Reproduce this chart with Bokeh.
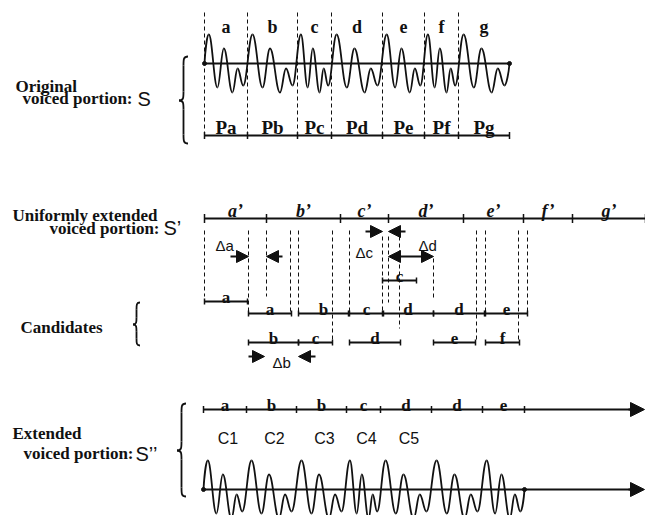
import numpy as np
from bokeh.plotting import figure
from bokeh.models import Range1d, Arrow, NormalHead
from bokeh.core.properties import value
from bokeh.embed import file_html
from bokeh.resources import INLINE

# ------------------------------------------------------------------ data
t0 = 204                                   # time origin of every track
period_labels = ["a", "b", "c", "d", "e", "f", "g"]
p_labels = ["Pa", "Pb", "Pc", "Pd", "Pe", "Pf", "Pg"]
orig_period_len = [43, 50, 34, 51, 42, 34, 51]      # original pitch periods
ext_labels = ["a\u2019", "b\u2019", "c\u2019", "d\u2019", "e\u2019", "f\u2019", "g\u2019"]
ext_period_len = [62, 74, 48, 75, 60, 49, 73]       # uniformly extended periods

# one pitch-period waveform template: position (fraction of period), amplitude
wave_frac = [0.10, 0.30, 0.45, 0.65, 0.77, 0.90]
wave_amp = [29, -24, 15, -29, -5, -22]

# candidate pitch waveforms: (label, start time)
cand_row1 = [("a", 204)]
cand_row2 = [("a", 248), ("b", 298), ("c", 349), ("d", 382), ("d", 433), ("e", 485)]
cand_row3 = [("b", 248), ("c", 298), ("d", 349), ("e", 433), ("f", 485)]
cand_extra = [("c", 382)]

# guide times (dashed lines) in the candidate section
guide_x = [204, 248, 266, 290, 298, 332, 349, 382, 388, 399, 433, 476, 485, 518, 527]

# deltas: (name, from, to)
deltas = [("\u0394a", 248, 266), ("\u0394b", 264, 298), ("\u0394c", 382, 388), ("\u0394d", 388, 433)]

selected = ["a", "b", "b", "c", "d", "d", "e"]
c_labels = ["C1", "C2", "C3", "C4", "C5"]

# ------------------------------------------------------------------ layout
Y_TOPLAB, Y_WAVE1, Y_PBAR = 26, 63, 135
Y_SPRIME = 218
Y_ROW1, Y_ROW2, Y_ROW3, Y_EXTRA = 301, 313, 342, 280
Y_S2LINE, Y_CLAB, Y_WAVE2 = 409, 438, 489
X_END = 644
W, H = 645, 515
guide_top = [230, 230, 230, 230, 230, 230, 230, 236, 236, 236, 258, 230, 230, 230, 230]
guide_bot = [296, 313, 296, 313, 313, 342, 313, 313, 302, 328, 297, 342, 313, 342, 313]

SERIF = value("Liberation Serif")
SANS = value("Liberation Sans")
BLACK = "#111111"

p = figure(width=W, height=H, x_range=Range1d(0, W), y_range=Range1d(H, 0),
           output_backend="svg", toolbar_location=None, min_border=0,
           x_axis_location=None, y_axis_location=None)
p.grid.visible = False
p.outline_line_color = None
p.background_fill_color = "white"

len_of = dict(zip(period_labels, orig_period_len))


def bounds(start, lengths):
    return list(start + np.concatenate([[0], np.cumsum(lengths)]))


def draw_wave(start, lengths, base):
    xs, ys = [start], [base]
    x = start
    for L in lengths:
        for f, a in zip(wave_frac, wave_amp):
            xs.append(x + f * L)
            ys.append(base - a)
        x += L
    xs.append(x)
    ys.append(base)
    xs, ys = np.array(xs, float), np.array(ys, float)
    xa, ya, xb, yb = xs[:-1], ys[:-1], xs[1:], ys[1:]
    dx = xb - xa
    cx0, cy0 = xa + 0.4 * dx, ya.copy()
    cx1, cy1 = xb - 0.4 * dx, yb.copy()
    cx0[0], cy0[0] = xa[0] + 0.15 * dx[0], ya[0] + 0.4 * (yb[0] - ya[0])
    cx1[-1], cy1[-1] = xb[-1] - 0.15 * dx[-1], yb[-1] - 0.4 * (yb[-1] - ya[-1])
    p.bezier(x0=xa, y0=ya, x1=xb, y1=yb, cx0=cx0, cy0=cy0, cx1=cx1, cy1=cy1,
             line_color=BLACK, line_width=1.8)


def draw_bar(edges, y, tick=3.5, lw=2):
    p.segment(x0=[edges[0]], y0=[y], x1=[edges[-1]], y1=[y], line_color=BLACK, line_width=lw)
    p.segment(x0=edges, y0=[y - tick] * len(edges), x1=edges, y1=[y + tick] * len(edges),
              line_color=BLACK, line_width=1.5)


def labels(xs, y, texts, size="17px", font=SERIF, style="bold", align="center"):
    p.text(x=xs, y=[y] * len(xs), text=texts, text_font=font, text_font_style=style,
           text_font_size=size, text_align=align, text_baseline="alphabetic", text_color=BLACK)


def brace(xc, y0, y1, ym, w):
    h = min(9, (ym - y0) / 3)
    x0 = [xc + w, xc, xc, xc + w]
    ys0 = [y0, ym - h, ym + h, y1]
    x1 = [xc, xc - w, xc - w, xc]
    ys1 = [y0 + h, ym, ym, y1 - h]
    cx0 = [xc, xc, xc, xc]
    cy0 = [y0, ym - 0.3 * h, ym + 0.3 * h, y1]
    cx1 = [xc, xc, xc, xc]
    cy1 = [y0 + 0.3 * h, ym, ym, y1 - 0.3 * h]
    p.bezier(x0=x0, y0=ys0, x1=x1, y1=ys1, cx0=cx0, cy0=cy0, cx1=cx1, cy1=cy1,
             line_color=BLACK, line_width=1.8)
    p.segment(x0=[xc, xc], y0=[y0 + h, ym + h], x1=[xc, xc], y1=[ym - h, y1 - h],
              line_color=BLACK, line_width=1.8)


def arrow(xs, xe, y, both=False, size=12):
    p.add_layout(Arrow(end=NormalHead(size=size, fill_color=BLACK, line_color=BLACK),
                       start=NormalHead(size=size, fill_color=BLACK, line_color=BLACK) if both else None,
                       x_start=xs, y_start=y, x_end=xe, y_end=y,
                       line_color=BLACK, line_width=2))


# ------------------------------------------------------------------ original S
ob = bounds(t0, orig_period_len)
centers = [(a + b) / 2 for a, b in zip(ob[:-1], ob[1:])]
p.segment(x0=ob[:-1], y0=[12] * 7, x1=ob[:-1], y1=[Y_PBAR] * 7,
          line_color=BLACK, line_width=1, line_dash="4 3")
labels(centers, Y_TOPLAB, period_labels, size="18px")
p.segment(x0=[ob[0]], y0=[Y_WAVE1], x1=[ob[-1]], y1=[Y_WAVE1], line_color=BLACK, line_width=2)
p.scatter(x=[ob[0], ob[-1]], y=[Y_WAVE1] * 2, size=4, color=BLACK)
draw_wave(t0, orig_period_len, Y_WAVE1)
labels(centers, 127, p_labels, size="19px")
draw_bar(ob, Y_PBAR)

labels([15], 86, ["Original"], align="left")
labels([22], 98, ["voiced portion:"], align="left")
labels([137], 98, ["S"], size="20px", font=SANS, style="normal", align="left")
brace(183, 56, 143, 100, 4.5)

# ------------------------------------------------------------------ extended S'
eb = bounds(t0, ext_period_len)
ecent = [(a + b) / 2 for a, b in zip(eb[:-1], eb[1:])]
draw_bar(eb, Y_SPRIME, tick=4.5, lw=2.2)
p.text(x=ecent, y=[210] * 7, text=ext_labels, text_font=SERIF, text_font_style="bold italic",
       text_font_size="18px", text_align="center", text_baseline="alphabetic", text_color=BLACK)
labels([12], 215, ["Uniformly extended"], align="left")
labels([49], 228, ["voiced portion:"], align="left")
labels([163], 227, ["S\u2019"], size="20px", font=SANS, style="normal", align="left")

# guides
p.segment(x0=guide_x, y0=guide_top, x1=guide_x, y1=guide_bot,
          line_color=BLACK, line_width=1, line_dash="4 3")

# deltas
(na, a0, a1), (nb, b0, b1), (nc, c0, c1), (nd, d0, d1) = deltas
arrow(a0 - 18, a0, 256)
arrow(a1 + 16, a1, 256)
labels([215], 245, [na], size="15px", font=SANS, style="normal", align="left")
arrow(b0 - 16, b0, 356)
arrow(b1 + 17, b1, 356)
labels([272], 362, [nb], size="15px", font=SANS, style="normal", align="left")
arrow(c0 - 17, c0, 231)
arrow(c1 + 17, c1, 231)
labels([355], 252, [nc], size="15px", font=SANS, style="normal", align="left")
arrow(d0, d1, 256, both=True)
labels([418], 245, [nd], size="15px", font=SANS, style="normal", align="left")

# candidates
for row, y in [(cand_row1, Y_ROW1), (cand_row2, Y_ROW2), (cand_row3, Y_ROW3), (cand_extra, Y_EXTRA)]:
    for lab, s in row:
        e = s + len_of[lab]
        draw_bar([s, e], y, tick=3)
        labels([(s + e) / 2], y - 4, [lab])
labels([20], 327, ["Candidates"], align="left")
brace(136, 302, 345, 324, 3.5)

# ------------------------------------------------------------------ extended S''
sel_len = [len_of[k] for k in selected]
sb = bounds(203, sel_len)
scent = [(a + b) / 2 for a, b in zip(sb[:-1], sb[1:])]
p.segment(x0=[sb[0]], y0=[Y_S2LINE], x1=[X_END - 8], y1=[Y_S2LINE], line_color=BLACK, line_width=2)
arrow(X_END - 16, X_END, Y_S2LINE, size=14)
p.segment(x0=sb, y0=[Y_S2LINE - 3.5] * len(sb), x1=sb, y1=[Y_S2LINE + 3.5] * len(sb),
          line_color=BLACK, line_width=1.5)
labels(scent, 405, selected)
labels([c + 3 for c in scent[:5]], Y_CLAB, c_labels, size="16px", font=SANS, style="normal")

p.segment(x0=[sb[0]], y0=[Y_WAVE2], x1=[X_END - 8], y1=[Y_WAVE2], line_color=BLACK, line_width=2)
arrow(X_END - 16, X_END, Y_WAVE2, size=14)
p.scatter(x=[sb[0], sb[-1]], y=[Y_WAVE2] * 2, size=4, color=BLACK)
draw_wave(203, sel_len, Y_WAVE2)

labels([12], 433, ["Extended"], align="left")
labels([23], 453, ["voiced portion:"], align="left")
labels([135], 453, ["S\u2019\u2019"], size="20px", font=SANS, style="normal", align="left")
brace(181, 403, 496, 450, 4.5)

open("out.html", "w").write(file_html(p, INLINE))
